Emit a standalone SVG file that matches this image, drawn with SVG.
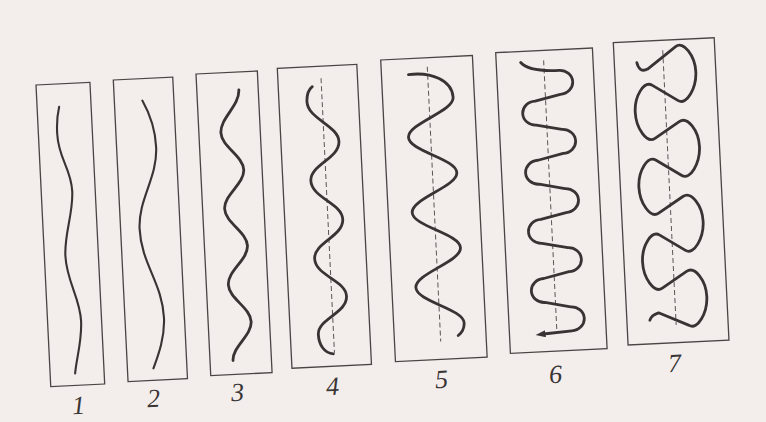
<svg xmlns="http://www.w3.org/2000/svg" width="766" height="422" viewBox="0 0 766 422">
<style>
.box{fill:none;stroke:#4a4545;stroke-width:1.3}
.curve{fill:none;stroke:#3a3333;stroke-width:2.8;stroke-linecap:round;stroke-linejoin:round}
.thin{stroke-width:2.1}
.axis{fill:none;stroke:#5a5555;stroke-width:1;stroke-dasharray:5 3}
.lbl{font-family:"Liberation Serif",serif;font-style:italic;font-size:26px;fill:#3a3535;text-anchor:middle}
</style>
<defs>
<marker id="arr" viewBox="0 0 10 7" refX="2" refY="3.5" markerWidth="10" markerHeight="7" markerUnits="userSpaceOnUse" orient="auto">
<path d="M0,0 L10,3.5 L0,7 z" fill="#3a3333"/>
</marker>
</defs>
<rect x="0" y="0" width="766" height="422" fill="#f3eeec"/>

<g id="panel1" transform="translate(36,85) rotate(-2.8)">
<rect class="box" x="0" y="0" width="54" height="302"/>
<path class="curve thin" d="M22,23 C19.5,32 18.7,42 18.8,50 C18.9,75 31,85 31,108 C31,130 21,150 21,172 C21,198 33.5,214 33.5,238 C33.5,258 27,275 25,290"/>
</g>

<g id="panel2" transform="translate(113.3,80) rotate(-2.8)">
<rect class="box" x="0" y="0" width="59.5" height="302"/>
<path class="curve thin" d="M28,22 C33,32 39.5,50 39.5,69 C39.5,100 19,120 19,150 C19,185 39,205 39,240 C39,260 31,278 26,290"/>
</g>

<g id="panel3" transform="translate(196,74) rotate(-2.8)">
<rect class="box" x="0" y="0" width="61.4" height="302"/>
<path class="curve" d="M42,18 C42,34 22,45 22,60 C22,74 43,84 43,98 C43,112 22,122 22,136 C22,150 43,160 43,174 C43,188 22,198 22,212 C22,226 43,236 43,250 C43,264 23,274 23,288"/>
</g>

<g id="panel4" transform="translate(277.3,68.3) rotate(-2.8)">
<rect class="box" x="0" y="0" width="79.6" height="300.3"/>
<line class="axis" x1="43.2" y1="12" x2="43.2" y2="287"/>
<path class="curve" d="M34,20 C30,23 28,29 28,35 C28,52 58,60 58,76 C58,93 28,98 28,114 C28,131 58,138 58,154 C58,171 28,176 28,192 C28,209 58,215 58,231 C58,248 28,252 28,268 C28,278 33,287 42,288"/>
</g>

<g id="panel5" transform="translate(380.7,60) rotate(-2.8)">
<rect class="box" x="0" y="0" width="91.8" height="302"/>
<line class="axis" x1="46.2" y1="9" x2="46.2" y2="284"/>
<path class="curve" d="M27,16 C50,14 70.5,24 70.5,41 C70.5,55 24,64.6 24,78.6 C24,92.6 70.5,102.2 70.5,116.2 C70.5,130.2 24,139.8 24,153.8 C24,167.8 70.5,177.4 70.5,191.4 C70.5,205.4 24,215 24,229 C24,243 70.5,252.6 70.5,266.6 C70.5,272 68,276 64,279"/>
</g>

<g id="panel6" transform="translate(495.7,52.7) rotate(-2.8)">
<rect class="box" x="0" y="0" width="96.8" height="301"/>
<line class="axis" x1="47.5" y1="10" x2="47.5" y2="283"/>
<path class="curve" marker-end="url(#arr)" d="M24.5,11 C30,18 45,20.7 62.5,20.7 A13,12 0 0 1 62.5,44.7 L37,50.3 A13,12 0 0 0 37,74.3 L62.5,79.9 A13,12 0 0 1 62.5,103.9 L37,109.5 A13,12 0 0 0 37,133.5 L62.5,139.1 A13,12 0 0 1 62.5,163.1 L37,168.7 A13,12 0 0 0 37,192.7 L62.5,198.3 A13,12 0 0 1 62.5,222.3 L37,227.9 A13,12 0 0 0 37,251.9 L62.5,257.5 A13,12 0 0 1 62.5,281.5 L34,283.3"/>
</g>

<g id="panel7" transform="translate(613.3,42.7) rotate(-2.8)">
<rect class="box" x="0" y="0" width="101" height="302.7"/>
<line class="axis" x1="49" y1="10" x2="49" y2="285"/>
<path class="curve" d="M22.5,21 C23.5,27 27,31 33,28 L62,7 C70.1,1.1 81,17 81,33 C81,49 70.3,66.5 62,61 L37,44.5 C28.7,39 18.5,54.5 18.5,70.5 C18.5,86.5 28.5,102.8 37,97.5 L62,82 C70.5,76.7 81,92 81,108 C81,124 70.3,141.5 62,136 L37,119.5 C28.7,114 18.5,129.5 18.5,145.5 C18.5,161.5 28.5,177.8 37,172.5 L62,157 C70.5,151.7 81,167 81,183 C81,199 70.3,216.5 62,211 L37,194.5 C28.7,189 18.5,204.5 18.5,220.5 C18.5,236.5 28.5,252.8 37,247.5 L62,232 C70.5,226.7 81,242 81,258 C81,274 70.3,291.5 62,286 L32,272 C28,273 24,276 23,279"/>
</g>

<g id="labels">
<text class="lbl" transform="translate(79,414) rotate(-3)">1</text>
<text class="lbl" transform="translate(154,407) rotate(-3)">2</text>
<text class="lbl" transform="translate(238,401) rotate(-3)">3</text>
<text class="lbl" transform="translate(333,395) rotate(-3)">4</text>
<text class="lbl" transform="translate(442,388) rotate(-3)">5</text>
<text class="lbl" transform="translate(556,383) rotate(-3)">6</text>
<text class="lbl" transform="translate(675,372) rotate(-3)">7</text>
</g>
</svg>
